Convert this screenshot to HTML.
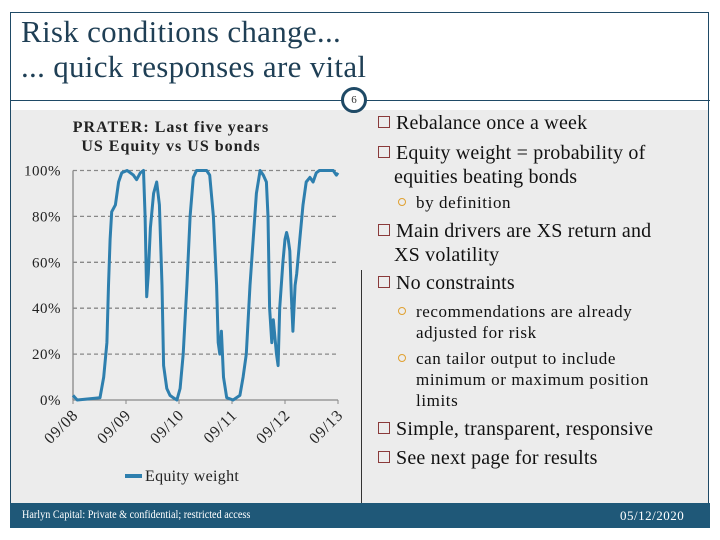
<!DOCTYPE html>
<html><head><meta charset="utf-8"><style>
body{margin:0;width:720px;height:540px;background:#fff;position:relative;overflow:hidden;font-family:"Liberation Serif",serif}
.abs{position:absolute;white-space:nowrap}
.b{font-size:20px;color:#111;letter-spacing:0.2px}
.s{font-size:17px;color:#111;letter-spacing:0.6px}
.sq{display:inline-block;width:10px;height:10px;border:1px solid #8a3a3a;margin-right:6px;vertical-align:1px}
.ci{display:inline-block;width:6px;height:6px;border:1.5px solid #e0a030;border-radius:50%;margin-right:10px;vertical-align:2px}
</style></head><body>
<div class="abs" style="left:10px;top:12px;width:699px;height:516px;border:1px solid #1f4a66;box-sizing:border-box"></div>
<div class="abs" style="left:11px;top:110px;width:697px;height:393px;background:#ececec"></div>
<div class="abs" style="left:10px;top:100px;width:700px;height:1px;background:#1f4a66"></div>
<div class="abs" style="left:361px;top:270px;width:1px;height:233px;background:#333"></div>
<div class="abs" style="left:21px;top:14px;font-size:31px;line-height:35px;color:#1f3f55;letter-spacing:0.3px">Risk conditions change...<br>... quick responses are vital</div>
<div class="abs" style="left:341px;top:87px;width:20px;height:20px;border:3px solid #1f4a66;border-radius:50%;background:#fff;font-size:11px;text-align:center;line-height:20px;color:#333">6</div>

<svg class="abs" style="left:0;top:110px" width="361" height="393">
<text x="171" y="22" text-anchor="middle" font-family="Liberation Serif,serif" font-weight="bold" font-size="16" letter-spacing="1" fill="#222">PRATER: Last five years</text>
<text x="171" y="41" text-anchor="middle" font-family="Liberation Serif,serif" font-weight="bold" font-size="16" letter-spacing="1" fill="#222">US Equity vs US bonds</text>
<g id="grid"></g><g id="plot"></g>
<line x1="125" y1="366" x2="142" y2="366" stroke="#2e7fae" stroke-width="4"/>
<text x="145" y="371" font-family="Liberation Serif,serif" font-size="16" letter-spacing="0.3" fill="#222">Equity weight</text>
</svg>

<div class="abs b" style="left:378px;top:112px"><span class="sq"></span>Rebalance once a week</div>
<div class="abs b" style="left:378px;top:141px;line-height:24px"><span class="sq"></span>Equity weight = probability of<br><span style="padding-left:16px">equities beating bonds</span></div>
<div class="abs s" style="left:398px;top:193px"><span class="ci"></span>by definition</div>
<div class="abs b" style="left:378px;top:219px;line-height:24px"><span class="sq"></span>Main drivers are XS return and<br><span style="padding-left:16px">XS volatility</span></div>
<div class="abs b" style="left:378px;top:272px"><span class="sq"></span>No constraints</div>
<div class="abs s" style="left:398px;top:301px;line-height:21px"><span class="ci"></span>recommendations are already<br><span style="padding-left:18px">adjusted for risk</span></div>
<div class="abs s" style="left:398px;top:348px;line-height:21px"><span class="ci"></span>can tailor output to include<br><span style="padding-left:18px">minimum or maximum position</span><br><span style="padding-left:18px">limits</span></div>
<div class="abs b" style="left:378px;top:418px"><span class="sq"></span>Simple, transparent, responsive</div>
<div class="abs b" style="left:378px;top:447px"><span class="sq"></span>See next page for results</div>

<div class="abs" style="left:10px;top:503px;width:700px;height:25px;background:#1f5878"></div>
<div class="abs" style="left:22px;top:507px;font-size:12px;color:#fff;transform:scaleX(0.85);transform-origin:0 0">Harlyn Capital: Private &amp; confidential; restricted access</div>
<div class="abs" style="left:620px;top:508px;font-size:13px;color:#fff;letter-spacing:0.5px">05/12/2020</div>

<script>
const yTicks=[0,20,40,60,80,100];
const xTickLabels=["09/08","09/09","09/10","09/11","09/12","09/13"];
const times=[0,.08,.51,.58,.64,.67,.70,.73,.80,.86,.92,1.02,1.14,1.20,1.27,1.33,1.36,1.39,1.42,1.46,1.52,1.58,1.63,1.68,1.71,1.77,1.83,1.89,1.96,2.02,2.08,2.15,2.21,2.27,2.33,2.52,2.58,2.65,2.71,2.74,2.77,2.80,2.84,2.90,3.02,3.15,3.21,3.27,3.34,3.40,3.46,3.53,3.59,3.65,3.68,3.71,3.75,3.78,3.84,3.87,3.90,3.96,4.00,4.03,4.06,4.09,4.12,4.15,4.19,4.22,4.28,4.34,4.40,4.47,4.53,4.59,4.65,4.91,4.97,5.0];
const weights=[2,0,1,10,25,50,70,82,85,95,99,100,98,96,99,100,80,45,55,75,90,95,85,50,15,5,2,1,0,5,20,50,80,97,100,100,98,80,50,25,20,30,10,1,0,2,10,20,50,70,90,100,98,95,80,40,25,35,20,15,40,60,70,73,70,65,45,30,50,55,70,85,95,97,95,99,100,100,98,99];
const NS="http://www.w3.org/2000/svg";
const X0=73,X1=338,Y0=290,Y1=60.5;
const xs=t=>X0+(X1-X0)*t/5, ys=v=>Y0-(Y0-Y1)*v/100;
const grid=document.getElementById('grid'),plot=document.getElementById('plot');
function mk(tag,attrs,parent){const e=document.createElementNS(NS,tag);for(const k in attrs)e.setAttribute(k,attrs[k]);parent.appendChild(e);return e;}
yTicks.forEach(v=>{
  if(v>0){const l=mk('line',{x1:X0,x2:X1,y1:ys(v),y2:ys(v),stroke:'#888','stroke-width':1.3,'stroke-dasharray':'4,3'},grid);
  
  }
  const t=mk('text',{x:61,y:ys(v)+5,'text-anchor':'end','font-family':'Liberation Serif,serif','font-size':15,'letter-spacing':0.5,fill:'#222'},grid);
  t.textContent=v+'%';
  
  
});
const ax=mk('line',{x1:X0,x2:X1,y1:Y0,y2:Y0,stroke:'#888','stroke-width':1.3},grid);


const ay=mk('line',{x1:X0,x2:X0,y1:Y1,y2:Y0,stroke:'#888','stroke-width':1.3},grid);


xTickLabels.forEach((s,i)=>{
  const x=xs(i);
  const tk=mk('line',{x1:x,x2:x,y1:Y0,y2:Y0+4,stroke:'#888'},grid);
  
  
  const t=mk('text',{x:x+6,y:Y0+16,'text-anchor':'end','font-family':'Liberation Serif,serif','font-size':16,'letter-spacing':0.8,fill:'#222',transform:`rotate(-45 ${x+6} ${Y0+16})`},grid);
  t.textContent=s;
  
  
});
const d=times.map((t,i)=>(i?'L':'M')+xs(t).toFixed(1)+','+ys(weights[i]).toFixed(1)).join('');
const p=mk('path',{d:d,fill:'none',stroke:'#2e7fae','stroke-width':3,'stroke-linejoin':'round'},plot);


</script>
</body></html>
